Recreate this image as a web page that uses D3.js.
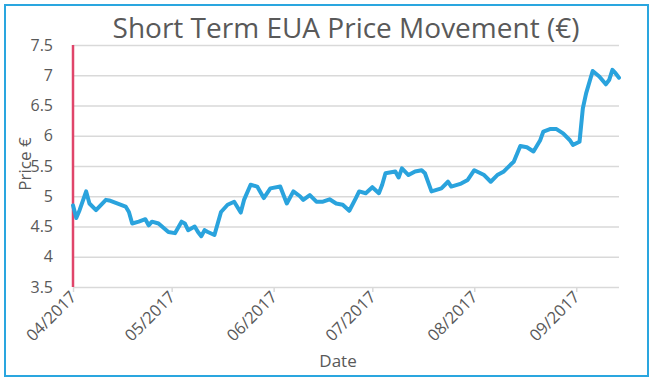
<!DOCTYPE html>
<html><head><meta charset="utf-8">
<script src="https://cdn.jsdelivr.net/npm/d3@7"></script>
<style>html,body{margin:0;padding:0;background:#fff;}svg{display:block;}</style>
</head><body>
<svg id="c" width="655" height="381"></svg>
<script>
const title = "Short Term EUA Price Movement (€)";
const yLabel = "Price €";
const xLabel = "Date";
const dates = ["2017-04-01","2017-04-02","2017-04-03","2017-04-05","2017-04-06","2017-04-08","2017-04-11","2017-04-12","2017-04-17","2017-04-18","2017-04-19","2017-04-21","2017-04-23","2017-04-24","2017-04-25","2017-04-27","2017-04-30","2017-05-02","2017-05-04","2017-05-05","2017-05-06","2017-05-08","2017-05-09","2017-05-10","2017-05-11","2017-05-12","2017-05-14","2017-05-15","2017-05-16","2017-05-18","2017-05-20","2017-05-22","2017-05-23","2017-05-25","2017-05-27","2017-05-29","2017-05-31","2017-06-03","2017-06-05","2017-06-07","2017-06-09","2017-06-10","2017-06-12","2017-06-14","2017-06-16","2017-06-18","2017-06-20","2017-06-22","2017-06-24","2017-06-26","2017-06-27","2017-06-29","2017-07-01","2017-07-03","2017-07-04","2017-07-05","2017-07-08","2017-07-09","2017-07-10","2017-07-12","2017-07-14","2017-07-16","2017-07-17","2017-07-19","2017-07-22","2017-07-24","2017-07-25","2017-07-28","2017-07-30","2017-08-01","2017-08-04","2017-08-06","2017-08-08","2017-08-10","2017-08-12","2017-08-13","2017-08-15","2017-08-17","2017-08-19","2017-08-21","2017-08-22","2017-08-24","2017-08-26","2017-08-28","2017-08-30","2017-08-31","2017-09-02","2017-09-03","2017-09-04","2017-09-06","2017-09-08","2017-09-10","2017-09-11","2017-09-12","2017-09-13","2017-09-14"];
const prices = [4.85,4.64,4.77,5.08,4.88,4.77,4.94,4.93,4.83,4.74,4.55,4.58,4.62,4.52,4.58,4.55,4.41,4.39,4.58,4.55,4.44,4.50,4.41,4.34,4.44,4.41,4.36,4.55,4.74,4.86,4.91,4.73,4.94,5.19,5.16,4.97,5.13,5.16,4.88,5.08,5.00,4.94,5.02,4.91,4.91,4.95,4.88,4.86,4.76,4.97,5.08,5.05,5.15,5.05,5.19,5.38,5.41,5.31,5.46,5.35,5.41,5.43,5.38,5.08,5.13,5.24,5.16,5.21,5.27,5.43,5.35,5.24,5.35,5.41,5.52,5.57,5.83,5.81,5.74,5.92,6.07,6.11,6.11,6.04,5.93,5.85,5.90,6.45,6.70,7.07,6.98,6.85,6.92,7.09,7.03,6.96];
const yTicks = [3.5,4,4.5,5,5.5,6,6.5,7,7.5];
const xTicks = ["2017-04-01","2017-05-01","2017-06-01","2017-07-01","2017-08-01","2017-09-01"];
const xDomain = ["2017-04-01","2017-09-14"];

const parse = d3.timeParse("%Y-%m-%d");
const fmt = d3.timeFormat("%m/%Y");
const data = dates.map((d,i)=>({date:parse(d), v:prices[i]}));

const svg = d3.select("#c");
const L=73, R=619, T=45, B=287;
const x = d3.scaleTime().domain(xDomain.map(parse)).range([L,R]);
const y = d3.scaleLinear().domain([3.5,7.5]).range([B,T]);
const txt = "#595959";
const font = "'Open Sans', sans-serif";

svg.append("rect").attr("x",5).attr("y",5).attr("width",643).attr("height",371)
  .attr("fill","#fff").attr("stroke","#2aa6df").attr("stroke-width",2);

// gridlines + y labels
const ya = svg.append("g").attr("transform",`translate(${L},0)`)
  .call(d3.axisLeft(y).tickValues(yTicks).tickSize(-(R-L)).tickFormat(d=>String(d)));
ya.select(".domain").remove();
ya.selectAll(".tick line").attr("stroke","#d9d9d9").attr("stroke-width",1.5);
ya.selectAll(".tick text").attr("x",-20).attr("fill",txt).style("font-family",font).style("font-size","16px");

// x ticks
const xa = svg.append("g").attr("transform",`translate(0,${B})`)
  .call(d3.axisBottom(x).tickValues(xTicks.map(parse)).tickSize(5).tickFormat(fmt));
xa.select(".domain").remove();
xa.selectAll(".tick line").attr("stroke","#d9d9d9").attr("stroke-width",1.5);
xa.selectAll(".tick text").attr("fill",txt).style("font-family",font).style("font-size","16.5px")
  .attr("text-anchor","end").attr("dy",0).attr("y",0)
  .attr("transform","translate(4,11) rotate(-45)");

// y axis red line
svg.append("line").attr("x1",L).attr("x2",L).attr("y1",T).attr("y2",B)
  .attr("stroke","#e0456a").attr("stroke-width",2.5);

// line
svg.append("path").datum(data)
  .attr("fill","none").attr("stroke","#2aa3dd").attr("stroke-width",4)
  .attr("stroke-linejoin","round").attr("stroke-linecap","round")
  .attr("d", d3.line().x(d=>x(d.date)).y(d=>y(d.v)));

svg.append("text").attr("x",346).attr("y",38).attr("text-anchor","middle")
  .attr("fill",txt).style("font-family",font).style("font-size","28px").text(title);
svg.append("text").attr("transform","translate(31,164) rotate(-90)").attr("text-anchor","middle")
  .attr("fill",txt).style("font-family",font).style("font-size","17px").text(yLabel);
svg.append("text").attr("x",338).attr("y",367).attr("text-anchor","middle")
  .attr("fill",txt).style("font-family",font).style("font-size","17px").text(xLabel);
</script>
</body></html>
